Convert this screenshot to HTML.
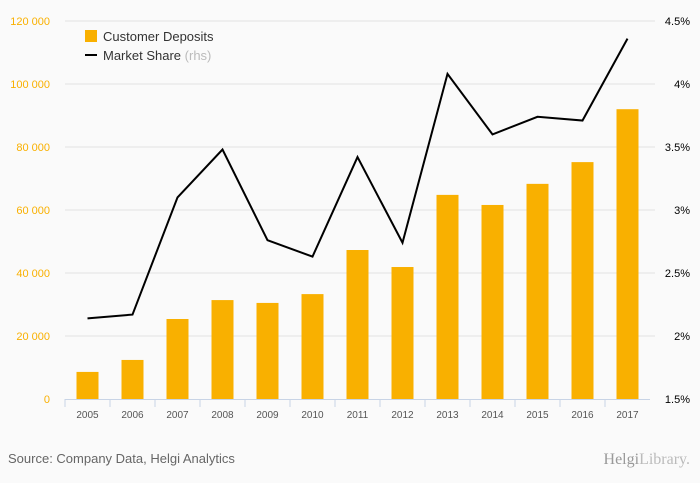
<!DOCTYPE html>
<html><head><meta charset="utf-8"><style>
body{margin:0;background:#fafafa;font-family:"Liberation Sans",sans-serif;}
svg{display:block}
</style></head><body>
<svg id="c" width="700" height="483">
<rect width="700" height="483" fill="#fafafa"/>
<g id="grid"></g><g id="bars"></g><g id="line"></g><g id="axes"></g>
<g>
<rect x="85" y="30" width="12" height="12" fill="#f9b000"/>
<text x="103" y="41" font-size="13" fill="#333">Customer Deposits</text>
<line x1="85" y1="55" x2="97" y2="55" stroke="#000" stroke-width="2"/>
<text x="103" y="60" font-size="13" fill="#333">Market Share <tspan fill="#bbb">(rhs)</tspan></text>
</g>
<text x="8" y="463" font-size="13" fill="#666">Source: Company Data, Helgi Analytics</text>
<text x="690" y="464" font-size="16" fill="#999" text-anchor="end" font-family="Liberation Serif,serif">Helgi<tspan fill="#bbb">Library.</tspan></text>
</svg>
<script>
const years=["2005","2006","2007","2008","2009","2010","2011","2012","2013","2014","2015","2016","2017"];
const deposits=[8600,12400,25400,31400,30500,33300,47300,41900,64800,61600,68300,75200,92000];
const share=[2.14,2.17,3.10,3.48,2.76,2.63,3.42,2.74,4.08,3.60,3.74,3.71,4.36];
const leftTicks=[0,20000,40000,60000,80000,100000,120000];
const rightTicks=[1.5,2,2.5,3,3.5,4,4.5];
const NS="http://www.w3.org/2000/svg";
const x0=65,bw=45,yb=399,yt=21;
const yL=v=>yb-(v/120000)*(yb-yt);
const yR=v=>yb-((v-1.5)/3)*(yb-yt);
const xC=i=>x0+bw*i+bw/2;
function mk(t,a,p){const e=document.createElementNS(NS,t);for(const k in a)e.setAttribute(k,a[k]);p.appendChild(e);return e;}
const G=document.getElementById('grid'),B=document.getElementById('bars'),L=document.getElementById('line'),A=document.getElementById('axes');
leftTicks.forEach((v,i)=>{
 const y=yL(v);
 if(v>0){const g=mk('line',{x1:x0,x2:655,y1:y,y2:y,stroke:'#e3e3e3'},G);
 
 }
 const t=mk('text',{x:50,y:y+4,'font-size':11,fill:'#f9b000','text-anchor':'end'},A);t.textContent=v===0?'0':(v/1000)+' 000';
 
 
});
rightTicks.forEach(v=>{
 const t=mk('text',{x:690,y:yR(v)+4,'font-size':11,fill:'#000','text-anchor':'end'},A);t.textContent=v+'%';
 
 
});
years.forEach((yr,i)=>{
 const r=mk('rect',{x:xC(i)-11,y:yL(deposits[i]),width:22,height:yb-yL(deposits[i]),fill:'#f9b000'},B);
 
 
 const t=mk('text',{x:xC(i),y:418,'font-size':10,fill:'#555','text-anchor':'middle'},A);t.textContent=yr;
 
 
 const tk=mk('line',{x1:x0+bw*i,x2:x0+bw*i,y1:yb,y2:yb+8,stroke:'#c8d4e6'},A);
 
 
});
const ax=mk('line',{x1:x0,x2:x0+bw*13,y1:yb+0.5,y2:yb+0.5,stroke:'#c8d4e6'},A);


const pl=mk('polyline',{points:share.map((v,i)=>xC(i)+','+yR(v)).join(' '),fill:'none',stroke:'#000','stroke-width':2},L);


</script>
</body></html>
